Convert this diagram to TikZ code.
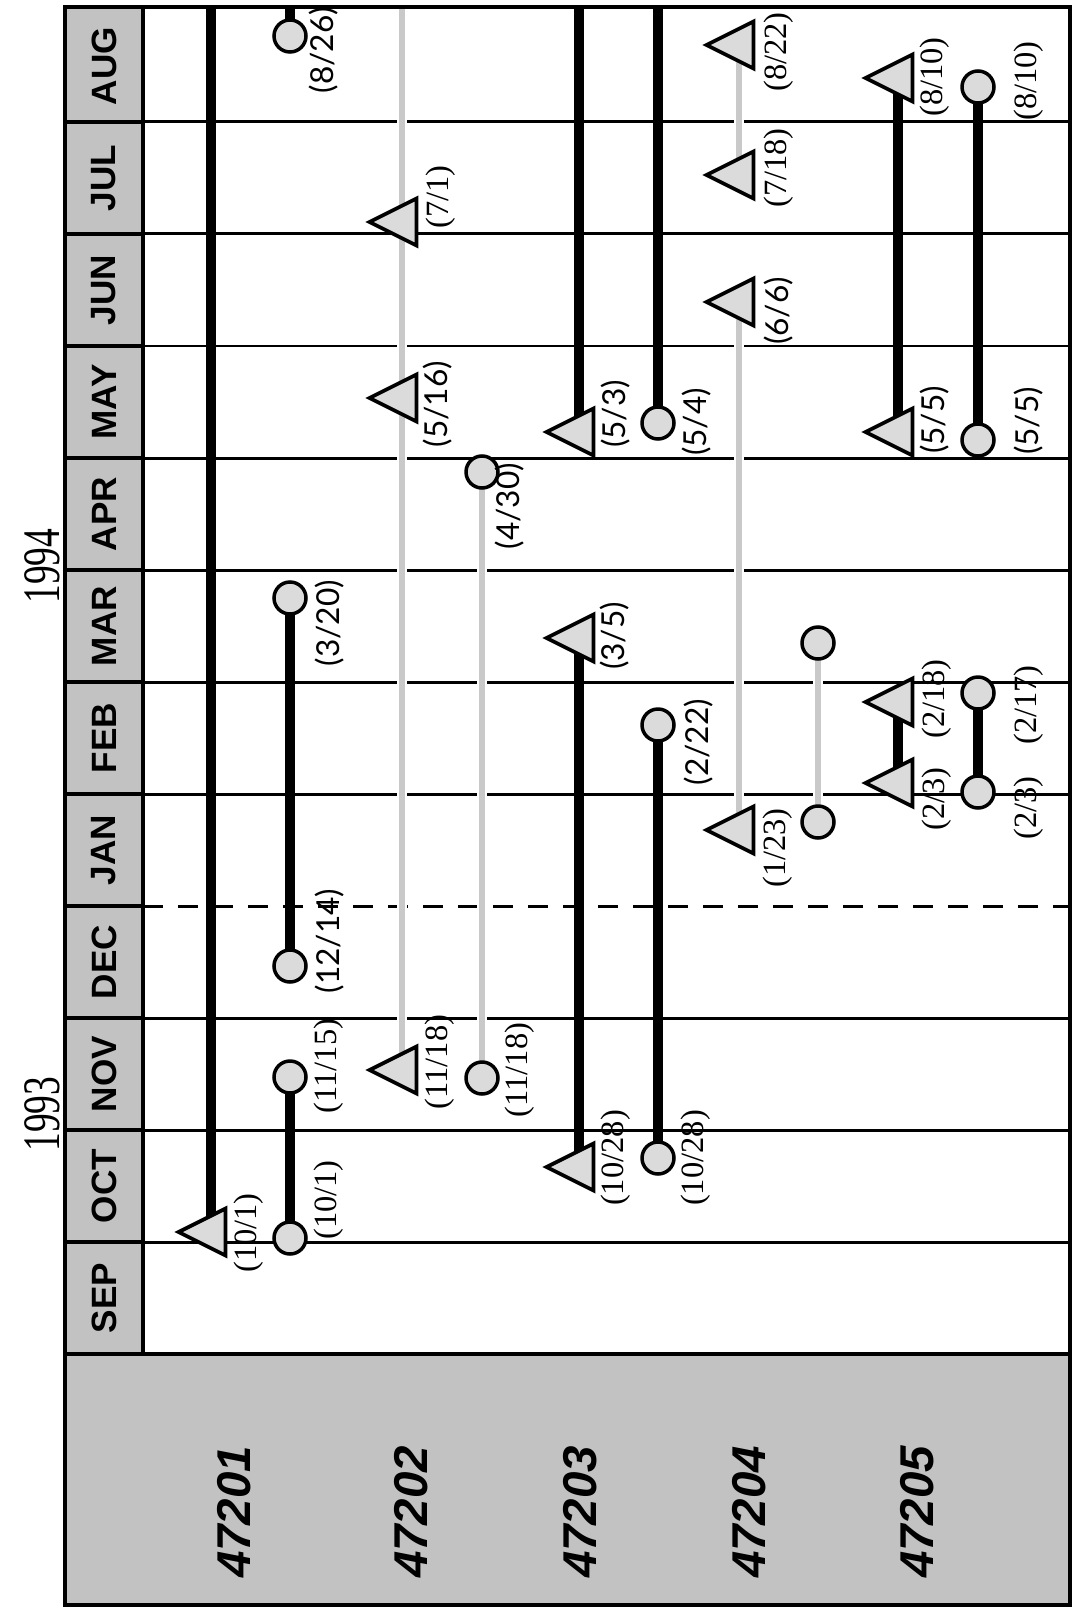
\documentclass[tikz,border=0pt]{standalone}
\usepackage{fontspec}
\setmainfont{Liberation Serif}
\setsansfont{Liberation Sans}
\newfontfamily\optima{Lato}
\usetikzlibrary{shapes.geometric, backgrounds}

\definecolor{stipple}{gray}{0.76}
\definecolor{markfill}{gray}{0.86}
\definecolor{planline}{gray}{0.79}

\begin{document}
\begin{tikzpicture}[
        x = 0.02cm, y = -0.02cm,
        every node/.style = {inner sep = 0pt, outer sep = 0pt},
        tri/.style = {isosceles triangle, isosceles triangle stretches, shape border rotate = 180,
            minimum width = 0.94cm, minimum height = 0.94cm, draw, line width = 0.075cm, fill = markfill},
        dot/.style = {circle, minimum size = 0.64cm, draw, line width = 0.07cm, fill = markfill},
        date/.style = {rotate = 90, font = \fontsize{18.5}{20}\selectfont},
        sdate/.style = {rotate = 90, font = \optima\fontsize{18}{20}\selectfont},
        month/.style = {rotate = 90, font = \sffamily\bfseries\fontsize{20}{22}\selectfont},
        job/.style = {rotate = 90, font = \sffamily\bfseries\itshape\fontsize{27}{30}\selectfont},
        year/.style = {rotate = 90, font = \fontsize{30}{32}\selectfont},
        bar/.style = {line width = 0.21cm},
        plan/.style = {draw = planline, line width = 0.12cm, preaction = {draw = white, line width = 0.2cm}},
        gridline/.style = {line width = 0.06cm},
        cellline/.style = {line width = 0.09cm}
    ]
    \useasboundingbox (0,0) rectangle (1073,1608);

    % header column and job strip
    \fill[stipple] (65,7) rectangle (143,1354);
    \fill[stipple] (65,1354) rectangle (1070,1605);
    \foreach \m [count = \i from 0] in {SEP, OCT, NOV, DEC, JAN, FEB, MAR, APR, MAY, JUN, JUL, AUG}
        \node[month] (m\i) at (104, 1298 - 112*\i) {\m};
    \foreach \k in {1, ..., 11}
        \draw[cellline] (65, 1354 - 112*\k) -- (143, 1354 - 112*\k);
    \draw[cellline] (143,7) -- (143,1354);
    \draw[cellline] (65,1354) -- (1070,1354);
    \draw[cellline] (65,7) rectangle (1070,1605);
    \coordinate (top) at (0,7);

    \node[year] (y93) at (42,1114) {\scalebox{0.71}[1]{1993}};
    \node[year] (y94) at (42,566) {\scalebox{0.71}[1]{1994}};

    \foreach \j/\x in {47201/234, 47202/411, 47203/580, 47204/749, 47205/917}
        \node[job] (j\j) at (\x,1512) {\j};

    % 47201
    \node[tri] (t1a) at (211,1232) {};
    \node[dot] (c1a) at (290,1238) {};
    \node[dot] (c1b) at (290,1077) {};
    \node[dot] (c1c) at (290,966) {};
    \node[dot] (c1d) at (290,598) {};
    \node[dot] (c1e) at (290,36) {};
    \node[date] (l1a) at (249,1233) {(10/1)};
    \node[date] (l1b) at (329,1200) {(10/1)};
    \node[date] (l1c) at (329,1066) {(11/15)};
    \node[sdate] (l1d) at (330,941) {(12/14)};
    \node[sdate] (l1e) at (330,623) {(3/20)};
    \node[sdate] (l1f) at (324,50) {(8/26)};

    % 47202
    \node[tri] (t2a) at (402,1070) {};
    \node[tri] (t2b) at (402,398) {};
    \node[tri] (t2c) at (402,222) {};
    \node[dot] (c2a) at (482,1078) {};
    \node[dot] (c2b) at (482,472) {};
    \node[date] (l2a) at (440,1062) {(11/18)};
    \node[sdate] (l2b) at (438,404) {(5/16)};
    \node[date] (l2c) at (441,197) {(7/1)};
    \node[date] (l2d) at (520,1070) {(11/18)};
    \node[sdate] (l2e) at (510,506) {(4/30)};

    % 47203
    \node[tri] (t3a) at (579,1167) {};
    \node[tri] (t3b) at (579,638) {};
    \node[tri] (t3c) at (579,432) {};
    \node[dot] (c3a) at (658,1158) {};
    \node[dot] (c3b) at (658,725) {};
    \node[dot] (c3c) at (658,423) {};
    \node[date] (l3a) at (616,1158) {(10/28)};
    \node[sdate] (l3b) at (615,636) {(3/5)};
    \node[sdate] (l3c) at (616,414) {(5/3)};
    \node[date] (l3d) at (696,1158) {(10/28)};
    \node[sdate] (l3e) at (699,742) {(2/22)};
    \node[sdate] (l3f) at (697,422) {(5/4)};

    % 47204
    \node[tri] (t4a) at (739,830) {};
    \node[tri] (t4b) at (739,302) {};
    \node[tri] (t4c) at (739,175) {};
    \node[tri] (t4d) at (739,45) {};
    \node[dot] (c4a) at (818,822) {};
    \node[dot] (c4b) at (818,643) {};
    \node[date] (l4a) at (778,848) {(1/23)};
    \node[sdate] (l4b) at (779,311) {(6/6)};
    \node[date] (l4c) at (779,168) {(7/18)};
    \node[date] (l4d) at (779,52) {(8/22)};

    % 47205
    \node[tri] (t5a) at (898,783) {};
    \node[tri] (t5b) at (898,702) {};
    \node[tri] (t5c) at (898,432) {};
    \node[tri] (t5d) at (898,78) {};
    \node[dot] (c5a) at (978,792) {};
    \node[dot] (c5b) at (978,693) {};
    \node[dot] (c5c) at (978,440) {};
    \node[dot] (c5d) at (978,87) {};
    \node[date] (l5a) at (937,799) {(2/3)};
    \node[date] (l5b) at (937,699) {(2/18)};
    \node[sdate] (l5c) at (935,420) {(5/5)};
    \node[date] (l5d) at (935,77) {(8/10)};
    \node[date] (l5e) at (1029,808) {(2/3)};
    \node[date] (l5f) at (1029,705) {(2/17)};
    \node[sdate] (l5g) at (1029,421) {(5/5)};
    \node[date] (l5h) at (1029,81) {(8/10)};

    \begin{scope}[on background layer]
        % month grid, new year dashed
        \foreach \k in {1, 2, 3, 5, 6, 7, 8, 9, 10, 11}
            \draw[gridline] (143, 1354 - 112*\k) -- (1070, 1354 - 112*\k);
        \draw[gridline, dash pattern = on 0.4cm off 0.3cm] (143,906) -- (1070,906);

        % planned
        \draw[plan] (t2a.center) -- (t2a |- top);
        \draw[plan] (c2a.center) -- (c2b.center);
        \draw[plan] (t4a.center) -- (t4b.center);
        \draw[plan] (t4c.center) -- (t4d.center);
        \draw[plan] (c4a.center) -- (c4b.center);

        % actual
        \draw[bar] (t1a.center) -- (t1a |- top);
        \draw[bar] (c1a.center) -- (c1b.center);
        \draw[bar] (c1c.center) -- (c1d.center);
        \draw[bar] (c1e.center) -- (c1e |- top);
        \draw[bar] (t3a.center) -- (t3b.center);
        \draw[bar] (t3c.center) -- (t3c |- top);
        \draw[bar] (c3a.center) -- (c3b.center);
        \draw[bar] (c3c.center) -- (c3c |- top);
        \draw[bar] (t5a.center) -- (t5b.center);
        \draw[bar] (t5c.center) -- (t5d.center);
        \draw[bar] (c5a.center) -- (c5b.center);
        \draw[bar] (c5c.center) -- (c5d.center);
    \end{scope}
\end{tikzpicture}
\end{document}
